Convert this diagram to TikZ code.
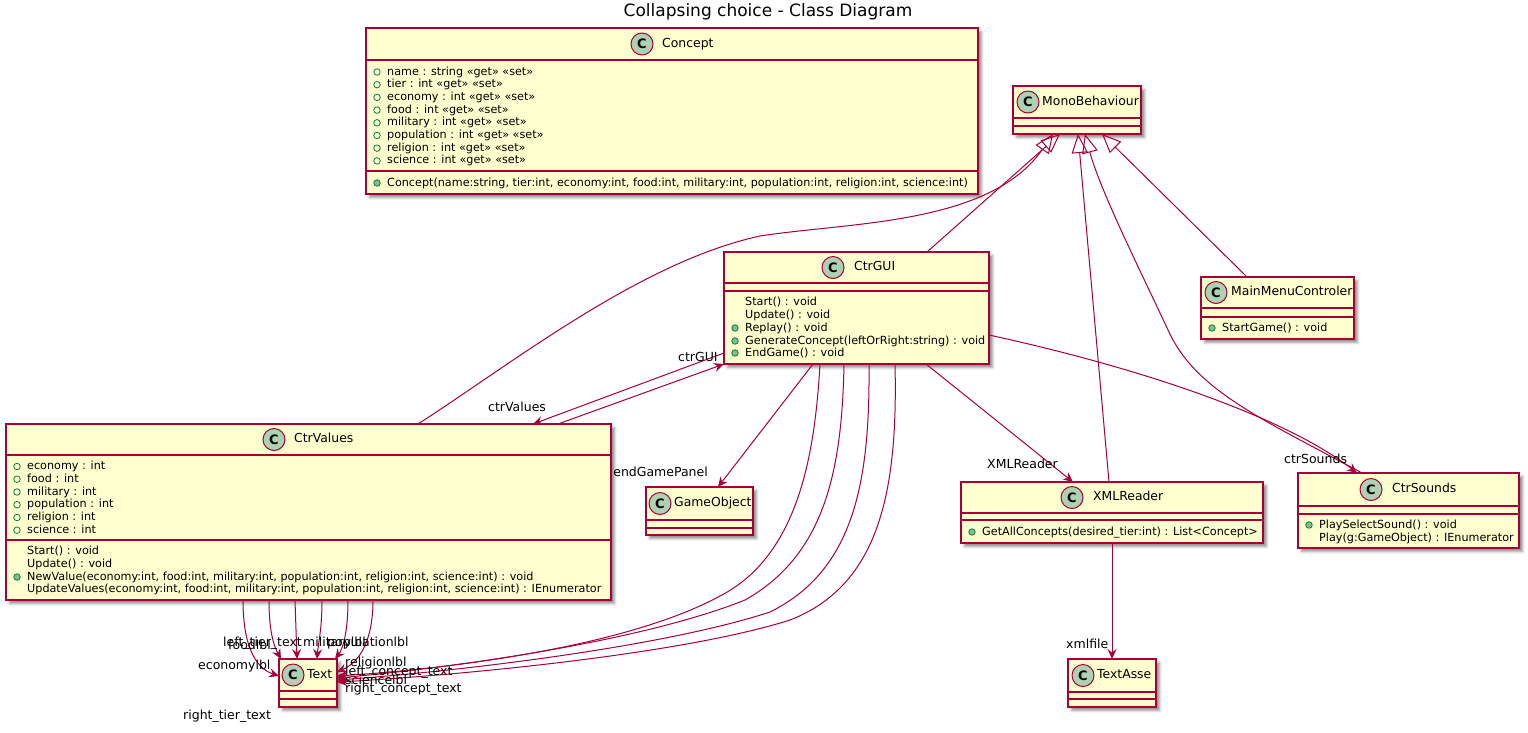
\documentclass[tikz,border=0pt]{standalone}
\usepackage{fontspec}
\setmainfont{DejaVu Sans}
\usetikzlibrary{arrows.meta,fit,shadows.blur}
\definecolor{pborder}{HTML}{A80036}
\definecolor{pfill}{HTML}{FEFECE}
\definecolor{pcirc}{HTML}{ADD1B2}
\definecolor{pgreen}{HTML}{038048}
\definecolor{pgreenfill}{HTML}{84BE84}
\tikzset{
 classbox/.style={draw=pborder, fill=pfill, line width=1.5pt, inner sep=0pt, outer sep=0pt,
   blur shadow={shadow xshift=3.5pt, shadow yshift=-3.5pt, shadow blur radius=2.5pt, shadow opacity=45}},
 sepline/.style={draw=pborder, line width=1.5pt},
 cicon/.style={circle, draw=pborder, line width=1pt, fill=pcirc, minimum size=22pt, inner sep=0pt,
   font=\bfseries\fontsize{13}{13}\selectfont},
 cname/.style={anchor=west, inner sep=0pt, font=\fontsize{12.4}{14}\selectfont, text height=9pt, text depth=2.5pt},
 mem/.style={anchor=west, inner sep=0pt, font=\fontsize{11.2}{13}\selectfont, text height=8pt, text depth=2pt},
 pubf/.style={circle, draw=pgreen, line width=0.8pt, minimum size=6.5pt, inner sep=0pt},
 pubm/.style={pubf, fill=pgreenfill},
 assoc/.style={draw=pborder, line width=1pt, -{Stealth[length=10pt,width=9pt,inset=3.5pt]}},
 inh/.style={draw=pborder, line width=1pt, -{Triangle[open,length=19pt,width=16pt]}},
 lbl/.style={anchor=west, inner sep=0pt, font=\fontsize{12.5}{14}\selectfont, text height=9pt, text depth=2.5pt},
}
\begin{document}
\begin{tikzpicture}[x=1pt,y=-1pt]
\useasboundingbox (0,0) rectangle (1528,732);

\node[font=\fontsize{17}{20}\selectfont, inner sep=0pt] (title) at (768,12) {Collapsing choice - Class Diagram};

% ---------- Concept
\node[classbox, fit={(366,28) (978,194)}] (concept) {};
\draw[sepline] (366,60) -- (978,60);
\draw[sepline] (366,171) -- (978,171);
\node[cicon] (conceptC) at (642,44) {C};
\node[cname] (conceptN) at (662,44) {Concept};
\foreach \yy/\txt [count=\i] in {72/{name : string «get» «set»}, 84.7/{tier : int «get» «set»},
  97.4/{economy : int «get» «set»}, 110.1/{food : int «get» «set»}, 122.8/{military : int «get» «set»},
  135.5/{population : int «get» «set»}, 148.2/{religion : int «get» «set»}, 160.9/{science : int «get» «set»}}{
  \node[pubf] (conceptF\i) at (377,\yy) {};
  \node[mem] (conceptA\i) at (387,\yy) {\txt};
}
\node[pubm] (conceptMI) at (377,183) {};
\node[mem] (conceptM) at (387,183) {Concept(name:string, tier:int, economy:int, food:int, military:int, population:int, religion:int, science:int)};

% ---------- MonoBehaviour
\node[classbox, fit={(1013,86) (1141,134)}] (mono) {};
\draw[sepline] (1013,118) -- (1141,118);
\draw[sepline] (1013,126) -- (1141,126);
\node[cicon] (monoC) at (1028,102) {C};
\node[cname] (monoN) at (1042,102) {MonoBehaviour};

% ---------- MainMenuControler
\node[classbox, fit={(1201,277) (1354,339)}] (mainmenu) {};
\draw[sepline] (1201,308) -- (1354,308);
\draw[sepline] (1201,317) -- (1354,317);
\node[cicon] (mainmenuC) at (1216,292.5) {C};
\node[cname] (mainmenuN) at (1231,292.5) {MainMenuControler};
\node[pubm] (mainmenuMI) at (1212,328) {};
\node[mem] (mainmenuM) at (1222,328) {StartGame() : void};

% ---------- CtrGUI
\node[classbox, fit={(724,252) (989,364)}] (ctrgui) {};
\draw[sepline] (724,283) -- (989,283);
\draw[sepline] (724,291) -- (989,291);
\node[cicon] (ctrguiC) at (833,267.5) {C};
\node[cname] (ctrguiN) at (854,267.5) {CtrGUI};
\node[mem] (ctrguiM1) at (745,302) {Start() : void};
\node[mem] (ctrguiM2) at (745,315) {Update() : void};
\node[pubm] (ctrguiI3) at (735,328) {};
\node[mem] (ctrguiM3) at (745,328) {Replay() : void};
\node[pubm] (ctrguiI4) at (735,341) {};
\node[mem] (ctrguiM4) at (745,341) {GenerateConcept(leftOrRight:string) : void};
\node[pubm] (ctrguiI5) at (735,353) {};
\node[mem] (ctrguiM5) at (745,353) {EndGame() : void};

% ---------- CtrValues
\node[classbox, fit={(6,424) (611,600)}] (ctrvalues) {};
\draw[sepline] (6,455) -- (611,455);
\draw[sepline] (6,540) -- (611,540);
\node[cicon] (ctrvaluesC) at (274,439.5) {C};
\node[cname] (ctrvaluesN) at (294,439.5) {CtrValues};
\foreach \yy/\txt [count=\i] in {466.5/{economy : int}, 479.2/{food : int}, 492/{military : int},
  504.7/{population : int}, 517.5/{religion : int}, 530.2/{science : int}}{
  \node[pubf] (ctrvaluesF\i) at (17,\yy) {};
  \node[mem] (ctrvaluesA\i) at (27,\yy) {\txt};
}
\node[mem] (ctrvaluesM1) at (27,551) {Start() : void};
\node[mem] (ctrvaluesM2) at (27,564) {Update() : void};
\node[pubm] (ctrvaluesI3) at (17,577) {};
\node[mem] (ctrvaluesM3) at (27,577) {NewValue(economy:int, food:int, military:int, population:int, religion:int, science:int) : void};
\node[mem] (ctrvaluesM4) at (27,589.5) {UpdateValues(economy:int, food:int, military:int, population:int, religion:int, science:int) : IEnumerator};

% ---------- GameObject
\node[classbox, fit={(646,487) (753,535)}] (gameobject) {};
\draw[sepline] (646,520) -- (753,520);
\draw[sepline] (646,528) -- (753,528);
\node[cicon] (gameobjectC) at (660,503.5) {C};
\node[cname] (gameobjectN) at (674,503.5) {GameObject};

% ---------- XMLReader
\node[classbox, fit={(961,482) (1263,543)}] (xmlreader) {};
\draw[sepline] (961,513) -- (1263,513);
\draw[sepline] (961,520) -- (1263,520);
\node[cicon] (xmlreaderC) at (1072,497.5) {C};
\node[cname] (xmlreaderN) at (1093,497.5) {XMLReader};
\node[pubm] (xmlreaderI) at (972,532) {};
\node[mem] (xmlreaderM) at (982,532) {GetAllConcepts(desired\_tier:int) : List<Concept>};

% ---------- CtrSounds
\node[classbox, fit={(1298,473) (1519,548)}] (ctrsounds) {};
\draw[sepline] (1298,506) -- (1519,506);
\draw[sepline] (1298,514) -- (1519,514);
\node[cicon] (ctrsoundsC) at (1371,489.5) {C};
\node[cname] (ctrsoundsN) at (1392,489.5) {CtrSounds};
\node[pubm] (ctrsoundsI) at (1309,525) {};
\node[mem] (ctrsoundsM1) at (1319,525) {PlaySelectSound() : void};
\node[mem] (ctrsoundsM2) at (1319,538) {Play(g:GameObject) : IEnumerator};

% ---------- Text
\node[classbox, fit={(279,659) (337,707)}] (textc) {};
\draw[sepline] (279,691) -- (337,691);
\draw[sepline] (279,699) -- (337,699);
\node[cicon] (textcC) at (293,675) {C};
\node[cname] (textcN) at (307,675) {Text};

% ---------- TextAsse
\node[classbox, fit={(1068,659) (1156,707)}] (textasse) {};
\draw[sepline] (1068,692) -- (1156,692);
\draw[sepline] (1068,699) -- (1156,699);
\node[cicon] (textasseC) at (1083,675.5) {C};
\node[cname] (textasseN) at (1097,675.5) {TextAsse};

% ---------- inheritance
\draw[inh] ([xshift=412pt]ctrvalues.north west) .. controls (510,365) and (640,262) .. (760,236)
   .. controls (850,222) and (990,225) .. ([xshift=40pt]mono.south west);
\draw[inh] ([xshift=203pt]ctrgui.north west) -- ([xshift=47pt]mono.south west);
\draw[inh] ([xshift=148pt]xmlreader.north west) -- ([xshift=65pt]mono.south west);
\draw[inh] ([xshift=64pt]ctrsounds.north west) .. controls (1260,418) and (1195,390) .. (1168,330)
   .. controls (1140,270) and (1100,190) .. ([xshift=72pt]mono.south west);
\draw[inh] ([xshift=46pt]mainmenu.north west) -- ([xshift=89pt]mono.south west);

% ---------- associations
\draw[assoc] ([yshift=11pt]ctrgui.south west) -- ([xshift=527pt]ctrvalues.north west);
\draw[assoc] ([xshift=552pt]ctrvalues.north west) -- (ctrgui.south west);
\draw[assoc] ([xshift=89pt]ctrgui.south west) -- ([xshift=72pt]gameobject.north west);
\draw[assoc] ([xshift=202pt]ctrgui.south west) -- ([xshift=112pt]xmlreader.north west);
\draw[assoc] ([yshift=29pt]ctrgui.south east) .. controls (1150,370) and (1290,420) .. ([xshift=59pt]ctrsounds.north west);
\draw[assoc] ([xshift=151pt]xmlreader.south west) -- ([xshift=44pt]textasse.north west);

\draw[assoc] ([xshift=96pt]ctrgui.south west) .. controls (815,450) and (800,555) .. (720,596)
   .. controls (630,645) and (460,668) .. ([yshift=-17pt]textc.north east);
\draw[assoc] ([xshift=120pt]ctrgui.south west) .. controls (842,470) and (825,555) .. (745,600)
   .. controls (640,642) and (450,668) .. ([yshift=-19pt]textc.north east);
\draw[assoc] ([xshift=145pt]ctrgui.south west) .. controls (870,480) and (855,570) .. (770,612)
   .. controls (660,648) and (450,672) .. ([yshift=-21pt]textc.north east);
\draw[assoc] ([xshift=171pt]ctrgui.south west) .. controls (898,490) and (880,585) .. (790,620)
   .. controls (680,655) and (450,676) .. ([yshift=-23pt]textc.north east);

\draw[assoc] ([xshift=237pt]ctrvalues.south west) .. controls (243,645) and (255,668) .. ([yshift=-17pt]textc.north west);
\draw[assoc] ([xshift=263pt]ctrvalues.south west) .. controls (269,635) and (275,648) .. ([xshift=2pt]textc.north west);
\draw[assoc] ([xshift=289pt]ctrvalues.south west) -- ([xshift=18pt]textc.north west);
\draw[assoc] ([xshift=316pt]ctrvalues.south west) .. controls (322,630) and (318,645) .. ([xshift=38pt]textc.north west);
\draw[assoc] ([xshift=342pt]ctrvalues.south west) .. controls (348,635) and (342,650) .. ([xshift=56pt]textc.north west);
\draw[assoc] ([xshift=367pt]ctrvalues.south west) .. controls (373,640) and (360,662) .. ([yshift=-13pt]textc.north east);

% ---------- labels
\node[lbl] (l1) at (488,408) {ctrValues};
\node[lbl] (l2) at (678,358) {ctrGUI};
\node[lbl, anchor=east] (l3) at (708,473) {endGamePanel};
\node[lbl] (l4) at (987,465) {XMLReader};
\node[lbl] (l5) at (1284,460) {ctrSounds};
\node[lbl] (l6) at (1066,645) {xmlfile};
\node[lbl] (l7) at (198,666) {economylbl};
\node[lbl] (l8) at (228,646) {foodlbl};
\node[lbl] (l9) at (223,643) {left\_tier\_text};
\node[lbl] (l10) at (303,643) {militarylbl};
\node[lbl] (l11) at (327,643) {populationlbl};
\node[lbl] (l12) at (345,663) {religionlbl};
\node[lbl] (l13) at (345,672) {left\_concept\_text};
\node[lbl] (l14) at (345,681) {sciencelbl};
\node[lbl] (l15) at (345,689) {right\_concept\_text};
\node[lbl] (l16) at (183,716) {right\_tier\_text};
\end{tikzpicture}
\end{document}
